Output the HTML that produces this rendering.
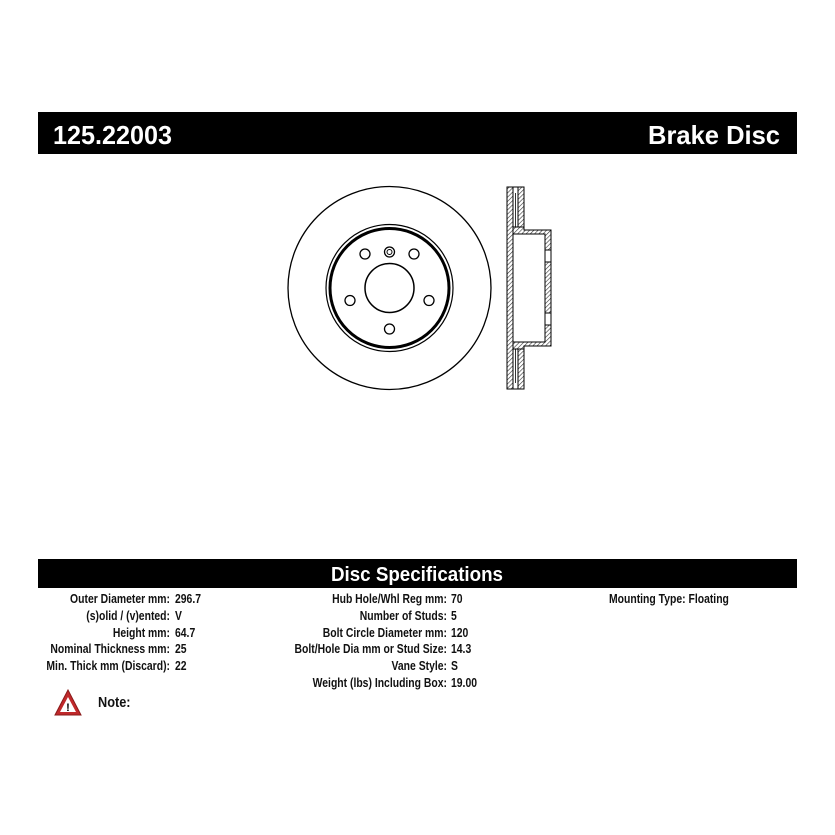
<!DOCTYPE html>
<html><head><style>
html,body{margin:0;padding:0;background:#fff;}
svg{display:block;}
text{font-family:"Liberation Sans",Arial,sans-serif;font-weight:bold;}
</style></head><body>
<svg width="835" height="835" viewBox="0 0 835 835" xmlns="http://www.w3.org/2000/svg">
<defs>
<pattern id="h" width="3" height="3" patternUnits="userSpaceOnUse" patternTransform="rotate(45)">
<rect width="3" height="3" fill="#fff"/><line x1="0" y1="0" x2="0" y2="3" stroke="#333" stroke-width="1.2"/>
</pattern>
</defs>
<rect x="38" y="112" width="759" height="42" fill="#000"/>
<text x="53" y="144" font-size="26" fill="#fff" textLength="119" lengthAdjust="spacingAndGlyphs">125.22003</text>
<text x="780" y="144" font-size="26" fill="#fff" text-anchor="end" textLength="132" lengthAdjust="spacingAndGlyphs">Brake Disc</text>

<g fill="none" stroke="#000">
<circle cx="389.5" cy="288" r="101.5" stroke-width="1.3"/>
<circle cx="389.5" cy="288" r="63.5" stroke-width="1.2"/>
<circle cx="389.5" cy="288" r="59.5" stroke-width="3"/>
<circle cx="389.5" cy="288" r="24.5" stroke-width="1.5"/>
<circle cx="389.5" cy="252" r="5" stroke-width="1.3"/>
<circle cx="389.5" cy="252" r="2.5" stroke-width="1"/>
<circle cx="365" cy="254" r="5" stroke-width="1.3"/>
<circle cx="414" cy="254" r="5" stroke-width="1.3"/>
<circle cx="350" cy="300.5" r="5" stroke-width="1.3"/>
<circle cx="429" cy="300.5" r="5" stroke-width="1.3"/>
<circle cx="389.5" cy="329" r="5" stroke-width="1.3"/>
</g>

<g stroke="#000" stroke-width="1">
<rect x="507" y="187" width="6" height="202" fill="url(#h)"/>
<rect x="518" y="187" width="6" height="40" fill="url(#h)"/>
<rect x="518" y="349" width="6" height="40" fill="url(#h)"/>
<line x1="513" y1="187" x2="518" y2="187"/>
<line x1="513" y1="389" x2="518" y2="389"/>
<line x1="515.5" y1="193" x2="515.5" y2="227" stroke-width="0.8"/>
<line x1="515.5" y1="349" x2="515.5" y2="383" stroke-width="0.8"/>
<path d="M513 227 L524 227 L524 230 L551 230 L551 346 L524 346 L524 349 L513 349 Z" fill="url(#h)"/>
<path d="M513 234 L545 234 L545 342 L513 342 Z" fill="#fff"/>
<rect x="545" y="250" width="6" height="12" fill="#fff"/>
<rect x="545" y="313" width="6" height="12" fill="#fff"/>
</g>

<rect x="38" y="559" width="759" height="29" fill="#000"/>
<text x="417" y="581" font-size="20" fill="#fff" text-anchor="middle" textLength="172" lengthAdjust="spacingAndGlyphs">Disc Specifications</text>
<g font-size="13" fill="#111">
<g transform="translate(170,0) scale(0.8,1)" text-anchor="end">
<text x="0" y="603">Outer Diameter mm:</text>
<text x="0" y="620">(s)olid / (v)ented:</text>
<text x="0" y="637">Height mm:</text>
<text x="0" y="653">Nominal Thickness mm:</text>
<text x="0" y="670">Min. Thick mm (Discard):</text>
</g>
<g transform="translate(175,0) scale(0.8,1)">
<text x="0" y="603">296.7</text>
<text x="0" y="620">V</text>
<text x="0" y="637">64.7</text>
<text x="0" y="653">25</text>
<text x="0" y="670">22</text>
</g>
<g transform="translate(447,0) scale(0.8,1)" text-anchor="end">
<text x="0" y="603">Hub Hole/Whl Reg mm:</text>
<text x="0" y="620">Number of Studs:</text>
<text x="0" y="637">Bolt Circle Diameter mm:</text>
<text x="0" y="653">Bolt/Hole Dia mm or Stud Size:</text>
<text x="0" y="670">Vane Style:</text>
<text x="0" y="687">Weight (lbs) Including Box:</text>
</g>
<g transform="translate(451,0) scale(0.8,1)">
<text x="0" y="603">70</text>
<text x="0" y="620">5</text>
<text x="0" y="637">120</text>
<text x="0" y="653">14.3</text>
<text x="0" y="670">S</text>
<text x="0" y="687">19.00</text>
</g>
<g transform="translate(609,0) scale(0.8,1)">
<text x="0" y="603">Mounting Type: Floating</text>
</g>
</g>
<polygon points="68,690 81,715 55,715" fill="#c0292b" stroke="#8a1a1a" stroke-width="1"/>
<polygon points="68,697 76,712 60,712" fill="#fff"/>
<text x="68" y="711" font-size="11" text-anchor="middle" fill="#000">!</text>
<text x="98" y="707" font-size="15" fill="#111" transform="translate(98,0) scale(0.85,1) translate(-98,0)">Note:</text>
</svg>
</body></html>
